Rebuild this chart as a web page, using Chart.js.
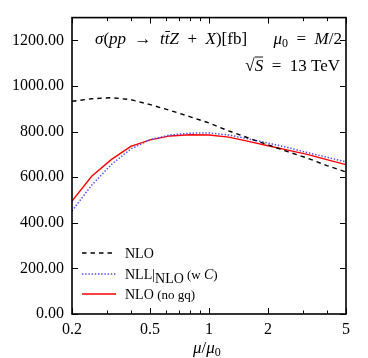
<!DOCTYPE html>
<html>
<head>
<meta charset="utf-8">
<script src="https://cdn.jsdelivr.net/npm/chart.js@4"></script>
<style>
  html, body { margin: 0; padding: 0; background: #fff; }
  #wrap { position: relative; width: 368px; height: 358px; }
</style>
</head>
<body>
<div id="wrap"><canvas id="chart" width="368" height="358"></canvas></div>
<script>
// scale factor mu/mu0 (log spaced grid)
const muValues = [0.2, 0.252, 0.317, 0.399, 0.502, 0.632, 0.796, 1.0, 1.26, 1.59, 2.0, 2.52, 3.17, 3.99, 5.0];

// sigma [fb]
const nloValues = [933, 944, 949, 940, 918, 893, 866, 838, 803, 772, 742, 712, 684, 651, 623];
const nllValues = [452, 565, 655, 724, 765, 785, 793, 794, 785, 768, 750, 730, 708, 688, 667];
const nloNoGqValues = [495, 604, 677, 735, 764, 781, 786, 785, 776, 757, 738, 719, 700, 677, 655];

const xTickValues = [0.2, 0.3, 0.4, 0.5, 0.6, 0.7, 0.8, 0.9, 1, 2, 3, 4, 5];
const xTickLabels = [0.2, 0.5, 1, 2, 5];
const yTickValues = [0, 200, 400, 600, 800, 1000, 1200];

const SERIF = "'Liberation Serif', 'DejaVu Serif', serif";
Chart.defaults.font.family = SERIF;
Chart.defaults.color = "#000";

const toPoints = (vals) => vals.map((v, i) => ({ x: muValues[i], y: v }));

// draws a run of text pieces (italic / subscript / overbar)
function drawRich(ctx, parts, x, y, align) {
  const fontOf = (p) => `${p.italic ? "italic " : ""}${p.size}px ${SERIF}`;
  let total = 0;
  parts.forEach((p) => {
    ctx.font = fontOf(p);
    p.w = ctx.measureText(p.t).width;
    total += p.w;
  });
  let cx = align === "right" ? x - total : x;
  ctx.textBaseline = "alphabetic";
  ctx.textAlign = "left";
  parts.forEach((p) => {
    ctx.font = fontOf(p);
    ctx.fillText(p.t, cx, y + (p.dy || 0));
    if (p.bar) {
      ctx.beginPath();
      ctx.lineWidth = 0.9;
      ctx.moveTo(cx + p.bar[0], y + p.bar[1]);
      ctx.lineTo(cx + p.w + p.bar[2], y + p.bar[1]);
      ctx.stroke();
    }
    cx += p.w;
  });
}

const framePlugin = {
  id: "frame",
  afterDraw(chart) {
    const { ctx, chartArea: a, scales } = chart;
    const xs = scales.x;
    const ys = scales.y;
    ctx.save();
    ctx.strokeStyle = "#000";
    ctx.fillStyle = "#000";
    ctx.lineWidth = 1.6;
    ctx.strokeRect(a.left, a.top, a.right - a.left, a.bottom - a.top);

    ctx.lineWidth = 1;
    const seg = (x1, y1, x2, y2) => {
      ctx.beginPath();
      ctx.moveTo(x1, y1);
      ctx.lineTo(x2, y2);
      ctx.stroke();
    };
    xTickValues.forEach((v) => {
      const px = Math.round(xs.getPixelForValue(v)) + 0.5;
      const len = xTickLabels.includes(v) ? 6 : 3.5;
      seg(px, a.bottom, px, a.bottom - len);
      seg(px, a.top, px, a.top + len);
    });
    yTickValues.forEach((v) => {
      const py = Math.round(ys.getPixelForValue(v)) + 0.5;
      seg(a.left, py, a.left + 6, py);
      seg(a.right, py, a.right - 6, py);
    });

    // labels inside the frame
    const S = 17;
    drawRich(ctx, [
      { t: "σ", italic: true, size: S },
      { t: "(", size: S },
      { t: "pp", italic: true, size: S },
      { t: "\u2002→\u2002", size: S },
      { t: "t", italic: true, size: S },
      { t: "t", italic: true, size: S, bar: [0.5, -12.5, 0.5] },
      { t: "Z", italic: true, size: S },
      { t: "\u2002+\u2002", size: S },
      { t: "X", italic: true, size: S },
      { t: ")[fb]", size: S },
    ], 95, 44);
    drawRich(ctx, [
      { t: "μ", italic: true, size: S },
      { t: "0", size: 12, dy: 3 },
      { t: "\u2002=\u2002", size: S },
      { t: "M", italic: true, size: S },
      { t: "/2", size: S },
    ], 342, 44, "right");
    drawRich(ctx, [
      { t: "√", size: S },
      { t: "S", italic: true, size: S, bar: [0, -14, 0] },
      { t: "\u2002=\u200213 TeV", size: S },
    ], 340, 71, "right");

    // legend
    const rows = [
      [{ t: "NLO", size: 14 }],
      [
        { t: "NLL|", size: 14 },
        { t: "NLO", size: 14, dy: 4 },
        { t: " (w ", size: 13 },
        { t: "C", italic: true, size: 14 },
        { t: ")", size: 13 },
      ],
      [{ t: "NLO ", size: 14 }, { t: "(no gq)", size: 13 }],
    ];
    const rowY = [253, 274, 294];
    chart.data.datasets.forEach((ds, i) => {
      ctx.save();
      ctx.strokeStyle = ds.borderColor;
      ctx.lineWidth = ds.borderWidth;
      ctx.setLineDash(ds.borderDash || []);
      seg(82, rowY[i], 116, rowY[i]);
      ctx.restore();
      drawRich(ctx, rows[i], 125, rowY[i] + 5);
    });

    // x axis title
    drawRich(ctx, [
      { t: "μ", italic: true, size: S },
      { t: "/", size: S },
      { t: "μ", italic: true, size: S },
      { t: "0", size: 12, dy: 3 },
    ], 193, 353);
    ctx.restore();
  },
};

new Chart(document.getElementById("chart"), {
  type: "line",
  data: {
    datasets: [
      {
        label: "NLO",
        data: toPoints(nloValues),
        borderColor: "#000000",
        borderWidth: 1.4,
        borderDash: [4.5, 4],
        pointRadius: 0,
        tension: 0,
        fill: false,
      },
      {
        label: "NLL|NLO (w C)",
        data: toPoints(nllValues),
        borderColor: "#4a4aff",
        borderWidth: 1.5,
        borderDash: [1.4, 1.8],
        pointRadius: 0,
        tension: 0,
        fill: false,
      },
      {
        label: "NLO (no gq)",
        data: toPoints(nloNoGqValues),
        borderColor: "#ff0000",
        borderWidth: 1.4,
        pointRadius: 0,
        tension: 0,
        fill: false,
      },
    ],
  },
  options: {
    responsive: false,
    animation: false,
    devicePixelRatio: 1,
    layout: { padding: { top: 15, right: 22, left: 0, bottom: 0 } },
    plugins: {
      legend: { display: false },
      tooltip: { enabled: false },
    },
    scales: {
      x: {
        type: "logarithmic",
        min: 0.2,
        max: 5,
        afterBuildTicks: (s) => {
          s.ticks = xTickValues.map((v) => ({ value: v }));
        },
        afterFit: (s) => {
          s.height = 44;
        },
        grid: { display: false, drawTicks: false },
        border: { display: false },
        ticks: {
          autoSkip: false,
          maxRotation: 0,
          padding: 6,
          font: { size: 16 },
          callback: (v) => (xTickLabels.includes(v) ? String(v) : ""),
        },
      },
      y: {
        min: 0,
        max: 1300,
        afterBuildTicks: (s) => {
          s.ticks = yTickValues.map((v) => ({ value: v }));
        },
        afterFit: (s) => {
          s.width = 72;
        },
        grid: { display: false, drawTicks: false },
        border: { display: false },
        ticks: {
          padding: 8,
          font: { size: 16 },
          callback: (v) => v.toFixed(2),
        },
      },
    },
  },
  plugins: [framePlugin],
});
</script>
</body>
</html>
